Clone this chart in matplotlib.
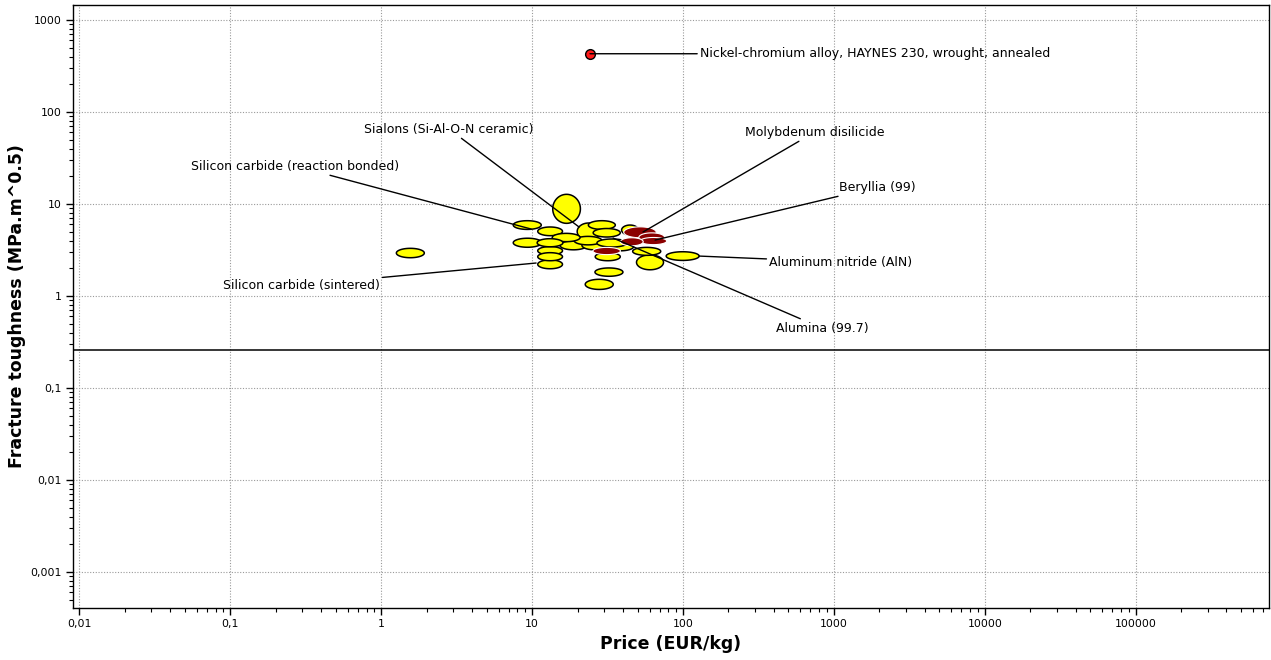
import numpy as np
import matplotlib
matplotlib.use("Agg")
import matplotlib.pyplot as plt
from matplotlib.ticker import FixedLocator, LogLocator, NullFormatter, FuncFormatter

# Technical ceramics: price range (EUR/kg) and fracture toughness range (MPa.m^0.5)
ceramic_price_lo = [13.7, 7.5, 10.9, 13.6, 7.5, 10.8, 10.9, 10.9, 10.9, 15.3, 21.4,
                    19.9, 23.6, 25.4, 26.2, 26.1, 22.5, 46.4, 49.2, 77.4, 1.26, 39.2, 26.9,
                    19.0, 31.0]
ceramic_price_hi = [20.9, 11.5, 15.9, 20.8, 11.6, 16.0, 15.9, 15.9, 15.9, 23.1, 31.3,
                    28.2, 35.6, 38.4, 38.4, 40.0, 34.5, 71.2, 74.3, 128.0, 1.93, 50.7, 42.6,
                    29.0, 47.0]
ceramic_k_lo = [6.17, 5.30, 4.53, 3.90, 3.39, 3.43, 2.80, 2.42, 1.98, 3.18, 3.18,
                4.06, 5.30, 4.38, 2.42, 1.64, 1.18, 2.77, 1.93, 2.44, 2.61, 4.60, 3.41,
                3.60, 3.10]
ceramic_k_hi = [12.75, 6.59, 5.63, 4.80, 4.25, 4.20, 3.45, 2.96, 2.47, 3.98, 3.98,
                6.22, 6.59, 5.42, 2.96, 2.02, 1.52, 3.38, 2.80, 3.03, 3.30, 5.91, 4.17,
                4.45, 3.80]

# Highlighted materials
highlight_price_lo = [40.5, 51.0, 52.0, 38.5, 25.3]
highlight_price_hi = [66.5, 75.5, 78.0, 54.5, 38.5]
highlight_k_lo = [4.30, 3.88, 3.62, 3.52, 2.82]
highlight_k_hi = [5.65, 4.86, 4.33, 4.30, 3.38]

# Single reference alloy
alloy_price = 24.2
alloy_k = 430.0

# Limit line on toughness
k_limit = 0.259

x_ticks = [0.01, 0.1, 1, 10, 100, 1000, 10000, 100000]
x_tick_labels = ["0,01", "0,1", "1", "10", "100", "1000", "10000", "100000"]
y_ticks = [0.001, 0.01, 0.1, 1, 10, 100, 1000]
y_tick_labels = ["0,001", "0,01", "0,1", "1", "10", "100", "1000"]

# Labels: text, text anchor (price, toughness), leader end (price, toughness)
labels = [
    ("Sialons (Si-Al-O-N ceramic)", (2.82, 65.3), (20.5, 5.62)),
    ("Silicon carbide (reaction bonded)", (0.2695, 25.9), (9.85, 5.35)),
    ("Molybdenum disilicide", (748, 60.6), (54.3, 4.96)),
    ("Beryllia (99)", (1927, 15.3), (65.3, 4.06)),
    ("Silicon carbide (sintered)", (0.295, 1.317), (10.63, 2.285)),
    ("Aluminum nitride (AlN)", (1112, 2.342), (127.6, 2.72)),
    ("Alumina (99.7)", (833, 0.449), (34.4, 4.27)),
]
alloy_label = "Nickel-chromium alloy, HAYNES 230, wrought, annealed"

W, H = 1271, 660
fig = plt.figure(figsize=(W / 100, H / 100), dpi=100)
ax = fig.add_axes([73 / W, 1 - 608 / H, (1268.5 - 73) / W, (608 - 5) / H])
ax.set_xscale("log")
ax.set_yscale("log")
ax.set_xlim(0.00906, 7.6e5)
ax.set_ylim(4.07e-4, 1456)


def bubble(ax, plo, phi, klo, khi, face, edge, lw, z):
    t = np.linspace(0, 2 * np.pi, 120)
    cx = (np.log10(plo) + np.log10(phi)) / 2
    rx = (np.log10(phi) - np.log10(plo)) / 2
    cy = (np.log10(klo) + np.log10(khi)) / 2
    ry = (np.log10(khi) - np.log10(klo)) / 2
    ax.fill(10 ** (cx + rx * np.cos(t)), 10 ** (cy + ry * np.sin(t)),
            facecolor=face, edgecolor=edge, linewidth=lw, zorder=z)


# larger bubbles first so smaller ones sit on top
order = np.argsort([-(np.log10(h) - np.log10(l)) for l, h in zip(ceramic_k_lo, ceramic_k_hi)])
for i in order:
    bubble(ax, ceramic_price_lo[i], ceramic_price_hi[i], ceramic_k_lo[i], ceramic_k_hi[i],
           "#ffff00", "black", 1.1, 2)
for i in range(len(highlight_price_lo)):
    bubble(ax, highlight_price_lo[i], highlight_price_hi[i], highlight_k_lo[i], highlight_k_hi[i],
           "#8b0000", "white", 0.8, 3)

ax.plot([alloy_price], [alloy_k], "o", markersize=7, markerfacecolor="#ff1a1a",
        markeredgecolor="black", markeredgewidth=1, zorder=4)

ax.axhline(k_limit, color="black", lw=1.1, zorder=2)

arrow = dict(arrowstyle="-", color="black", lw=1.0, shrinkA=0, shrinkB=0)
for text, txy, lxy in labels:
    ax.annotate(text, xy=lxy, xytext=txy, ha="center", va="center", fontsize=9,
                arrowprops=arrow, zorder=5)
ax.annotate(alloy_label, xy=(alloy_price, alloy_k), xytext=(129.6, alloy_k),
            ha="left", va="center", fontsize=9, arrowprops=arrow, zorder=5)

ax.xaxis.set_major_locator(FixedLocator(x_ticks))
ax.xaxis.set_major_formatter(FuncFormatter(lambda v, p: x_tick_labels[x_ticks.index(round(v, 6))]
                                           if round(v, 6) in x_ticks else ""))
ax.yaxis.set_major_locator(FixedLocator(y_ticks))
ax.yaxis.set_major_formatter(FuncFormatter(lambda v, p: y_tick_labels[y_ticks.index(round(v, 6))]
                                           if round(v, 6) in y_ticks else ""))
for a in (ax.xaxis, ax.yaxis):
    a.set_minor_locator(LogLocator(base=10, subs=np.arange(2, 10), numticks=30))
    a.set_minor_formatter(NullFormatter())

ax.tick_params(which="major", length=5, width=1, labelsize=7.8, pad=3)
ax.tick_params(which="minor", length=3, width=0.8)
ax.grid(True, which="major", linestyle=(0, (1, 1.5)), color="#9a9a9a", lw=0.8, zorder=0)
ax.set_axisbelow(True)
for s in ax.spines.values():
    s.set_linewidth(1.0)
    s.set_color("black")

ax.set_xlabel("Price (EUR/kg)", fontsize=12.5, fontweight="bold", labelpad=4)
ax.set_ylabel("Fracture toughness (MPa.m^0.5)", fontsize=12.5, fontweight="bold", labelpad=3)

fig.savefig("out.png", dpi=100)
